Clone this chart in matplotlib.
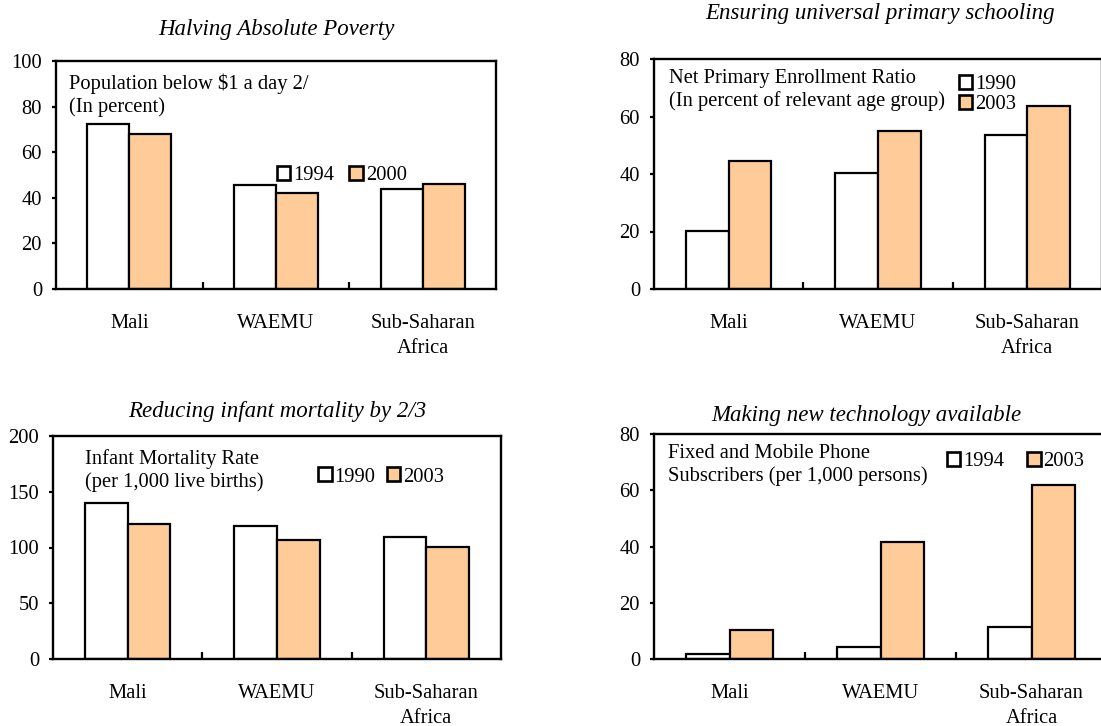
import matplotlib
matplotlib.use("Agg")
import matplotlib.pyplot as plt
from matplotlib.patches import Patch
import numpy as np

plt.rcParams['font.family'] = 'Liberation Serif'
plt.rcParams['font.size'] = 14.8

regions = ['Mali', 'WAEMU', 'Sub-Saharan\nAfrica']

# Halving absolute poverty
poverty_years = ['1994', '2000']
poverty_1994 = [72.2, 45.7, 43.9]
poverty_2000 = [68.1, 42.1, 46.0]

# Primary schooling
school_years = ['1990', '2003']
school_1990 = [20.3, 40.4, 53.5]
school_2003 = [44.5, 55.1, 63.7]

# Infant mortality
mort_years = ['1990', '2003']
mort_1990 = [139.6, 119.3, 109.4]
mort_2003 = [121.4, 106.4, 100.7]

# Phone subscribers
phone_years = ['1994', '2003']
phone_1994 = [1.7, 4.3, 11.4]
phone_2003 = [10.2, 41.5, 61.9]

ORANGE = '#FFCC99'
W, H = 1101, 726


def px_axes(fig, left, right, top, bottom):
    return fig.add_axes([left / W, 1 - bottom / H, (right - left) / W, (bottom - top) / H])


def panel(ax, old, new, years, ymax, ystep, title, title_xy, note, note_xy,
          leg_xy, leg_ncol, leg_colspace):
    x = np.arange(len(regions)) + 0.5
    bw = 0.286
    ax.bar(x - bw / 2, old, bw, color='white', edgecolor='black', linewidth=1.6)
    ax.bar(x + bw / 2, new, bw, color=ORANGE, edgecolor='black', linewidth=1.6)
    ax.set_xlim(0, 3)
    ax.set_ylim(0, ymax)
    ax.set_yticks(np.arange(0, ymax + 1, ystep))
    ax.set_xticks(x)
    ax.set_xticklabels(regions, linespacing=1.4)
    ax.set_xticks([1, 2], minor=True)
    ax.tick_params(axis='x', which='major', length=0, pad=18)
    ax.tick_params(axis='x', which='minor', direction='in', length=5, width=1.6)
    ax.tick_params(axis='y', direction='out', length=3, width=1.6, pad=7)
    for s in ax.spines.values():
        s.set_linewidth(1.7)
    ax.text(title_xy[0], title_xy[1], title, transform=ax.transAxes, style='italic',
            fontsize=16.5, ha='center', va='center')
    ax.text(note_xy[0], note_xy[1], note, transform=ax.transAxes,
            ha='left', va='top', linespacing=1.2)
    handles = [Patch(facecolor='white', edgecolor='black', linewidth=1.9),
               Patch(facecolor=ORANGE, edgecolor='black', linewidth=1.9)]
    ax.legend(handles, years, loc='center left', bbox_to_anchor=leg_xy, ncol=leg_ncol,
              frameon=False, borderpad=0, borderaxespad=0, handlelength=0.65,
              handleheight=0.65, handletextpad=0.15, columnspacing=leg_colspace,
              labelspacing=0.02)


fig = plt.figure(figsize=(W / 100, H / 100), dpi=100)

ax1 = px_axes(fig, 56, 496, 61, 289)
panel(ax1, poverty_1994, poverty_2000, poverty_years, 100, 20,
      'Halving Absolute Poverty', (0.5, 1.136),
      'Population below \\$1 a day 2/\n(In percent)', (0.03, 0.945),
      (0.502, 0.496), 2, 0.73)

ax2 = px_axes(fig, 654, 1102, 59, 289)
panel(ax2, school_1990, school_2003, school_years, 80, 20,
      'Ensuring universal primary schooling', (0.505, 1.196),
      'Net Primary Enrollment Ratio\n(In percent of relevant age group)', (0.034, 0.958),
      (0.68, 0.845), 1, 0.73)

ax3 = px_axes(fig, 53, 501, 436, 659)
panel(ax3, mort_1990, mort_2003, mort_years, 200, 50,
      'Reducing infant mortality by 2/3', (0.5, 1.108),
      'Infant Mortality Rate\n(per 1,000 live births)', (0.072, 0.94),
      (0.592, 0.816), 2, 0.55)

ax4 = px_axes(fig, 654, 1107, 434, 659)
panel(ax4, phone_1994, phone_2003, phone_years, 80, 20,
      'Making new technology available', (0.468, 1.084),
      'Fixed and Mobile Phone\nSubscribers (per 1,000 persons)', (0.031, 0.955),
      (0.647, 0.876), 2, 1.1)

fig.savefig('out.png', dpi=100)
